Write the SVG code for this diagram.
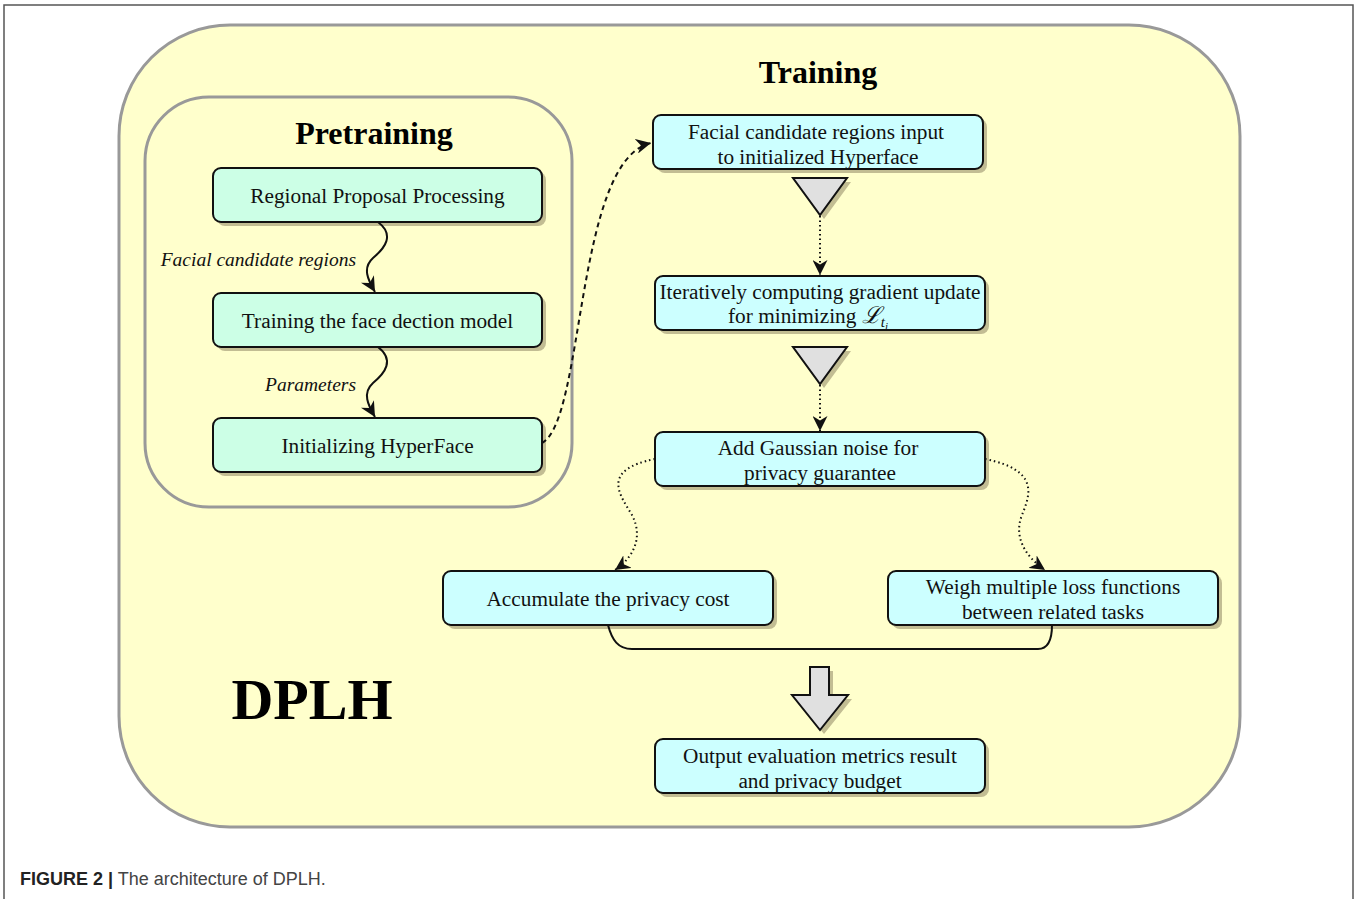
<svg xmlns="http://www.w3.org/2000/svg" width="1360" height="899" viewBox="0 0 1360 899">
<style>
.panel{fill:#ffffcc;stroke:#999999;stroke-width:3}
.shadow{fill:#c2bd93;stroke:none}
.gbox{fill:#ccffe6;stroke:#111;stroke-width:2}
.cbox{fill:#ccffff;stroke:#111;stroke-width:2}
.tri{fill:#e0e0e0;stroke:#111;stroke-width:2;stroke-linejoin:miter}
.t{font-family:"Liberation Serif","Times New Roman",serif;font-size:21.3px;fill:#111;text-anchor:middle}
.lbl{font-family:"Liberation Serif","Times New Roman",serif;font-size:19.5px;font-style:italic;fill:#111;text-anchor:end}
.title{font-family:"Liberation Serif","Times New Roman",serif;font-weight:bold;font-size:32px;fill:#000;text-anchor:middle}
.solid{fill:none;stroke:#111;stroke-width:2}
.dashed{fill:none;stroke:#111;stroke-width:2;stroke-dasharray:5 4}
.dotted{fill:none;stroke:#111;stroke-width:2;stroke-dasharray:1.5 3}
</style>
<defs>
<marker id="ah" markerWidth="15" markerHeight="15" refX="10" refY="5" orient="auto" markerUnits="userSpaceOnUse" viewBox="0 0 10 10">
<path d="M0,0 L10,5 L0,10 L3,5 z" fill="#111"/>
</marker>
</defs>
<rect width="1360" height="899" fill="#ffffff"/>
<path d="M4,899 V5 H1353 V899" fill="none" stroke="#555" stroke-width="1.5"/>

<g id="dplh-panel">
<rect class="panel" x="119" y="25" width="1121" height="802" rx="111" ry="111"/>
<text class="title" x="818" y="83">Training</text>
<text x="312" y="719" font-family="'Liberation Serif','Times New Roman',serif" font-weight="bold" font-size="58" fill="#000" text-anchor="middle">DPLH</text>
</g>

<g id="pretraining-panel">
<rect class="panel" x="145" y="97" width="427" height="410" rx="64" ry="64"/>
<text class="title" x="374" y="144">Pretraining</text>
</g>

<g id="node-regional">
<rect class="shadow" x="217" y="172" width="329" height="54" rx="8"/>
<rect class="gbox" x="213" y="168" width="329" height="54" rx="8"/>
<text class="t" x="377.5" y="203">Regional Proposal Processing</text>
</g>
<g id="node-training-face">
<rect class="shadow" x="217" y="297" width="329" height="54" rx="8"/>
<rect class="gbox" x="213" y="293" width="329" height="54" rx="8"/>
<text class="t" x="377.5" y="328">Training the face dection model</text>
</g>
<g id="node-init-hyperface">
<rect class="shadow" x="217" y="422" width="329" height="54" rx="8"/>
<rect class="gbox" x="213" y="418" width="329" height="54" rx="8"/>
<text class="t" x="377.5" y="453">Initializing HyperFace</text>
</g>

<g id="node-facial-input">
<rect class="shadow" x="657" y="119" width="330" height="54" rx="8"/>
<rect class="cbox" x="653" y="115" width="330" height="54" rx="8"/>
<text class="t" x="816" y="139">Facial candidate regions input</text>
<text class="t" x="818" y="164">to initialized Hyperface</text>
</g>
<g id="node-iterative">
<rect class="shadow" x="659" y="280" width="330" height="54" rx="8"/>
<rect class="cbox" x="655" y="276" width="330" height="54" rx="8"/>
<text class="t" x="820" y="299">Iteratively computing gradient update</text>
<text class="t" x="808" y="323">for minimizing <tspan font-family="'DejaVu Serif',serif" font-style="italic" font-size="23">ℒ</tspan><tspan font-size="15" font-style="italic" dy="4">t</tspan><tspan font-size="11" font-style="italic" dy="3">i</tspan></text>
</g>
<g id="node-gaussian">
<rect class="shadow" x="659" y="436" width="330" height="54" rx="8"/>
<rect class="cbox" x="655" y="432" width="330" height="54" rx="8"/>
<text class="t" x="818" y="455">Add Gaussian noise for</text>
<text class="t" x="820" y="480">privacy guarantee</text>
</g>
<g id="node-accumulate">
<rect class="shadow" x="447" y="575" width="330" height="54" rx="8"/>
<rect class="cbox" x="443" y="571" width="330" height="54" rx="8"/>
<text class="t" x="608" y="606">Accumulate the privacy cost</text>
</g>
<g id="node-weigh">
<rect class="shadow" x="892" y="575" width="330" height="54" rx="8"/>
<rect class="cbox" x="888" y="571" width="330" height="54" rx="8"/>
<text class="t" x="1053" y="594">Weigh multiple loss functions</text>
<text class="t" x="1053" y="619">between related tasks</text>
</g>
<g id="node-output">
<rect class="shadow" x="659" y="743" width="330" height="54" rx="8"/>
<rect class="cbox" x="655" y="739" width="330" height="54" rx="8"/>
<text class="t" x="820" y="763">Output evaluation metrics result</text>
<text class="t" x="820" y="788">and privacy budget</text>
</g>

<g id="connectors">
<path class="solid" d="M378,222 C395,235 385,248 373,258 C362,268 368,280 375,292" marker-end="url(#ah)"/>
<path class="solid" d="M378,347 C395,360 385,373 373,383 C362,393 368,405 375,417" marker-end="url(#ah)"/>
<text class="lbl" x="356" y="266">Facial candidate regions</text>
<text class="lbl" x="356" y="391">Parameters</text>
<path class="dashed" d="M542,443 C585,420 575,160 651,143" marker-end="url(#ah)"/>
<polygon points="797,182 851,182 824,219" fill="#c2bd93"/>
<polygon class="tri" points="793,178 847,178 820,215"/>
<path class="dotted" d="M820,216 V275" marker-end="url(#ah)"/>
<polygon points="797,351 851,351 824,388" fill="#c2bd93"/>
<polygon class="tri" points="793,347 847,347 820,384"/>
<path class="dotted" d="M820,385 V431" marker-end="url(#ah)"/>
<path class="dotted" d="M655,459 C600,470 620,495 632,515 C645,540 630,560 615,570" marker-end="url(#ah)"/>
<path class="dotted" d="M985,459 C1040,470 1030,495 1022,515 C1012,540 1030,560 1045,570" marker-end="url(#ah)"/>
<path class="solid" d="M608,625 C612,640 618,649 632,649 H1038 C1048,649 1052,640 1052,625"/>
<polygon points="814,671 833,671 833,699 852,699 824,734 796,699 814,699" fill="#c2bd93"/>
<polygon class="tri" points="810,667 829,667 829,695 848,695 820,730 792,695 810,695"/>
</g>

<g id="caption">
<text x="20" y="885" font-family="'Liberation Sans',Arial,sans-serif" font-size="18" fill="#222"><tspan font-weight="bold">FIGURE 2 |</tspan><tspan fill="#444"> The architecture of DPLH.</tspan></text>
</g>
</svg>
